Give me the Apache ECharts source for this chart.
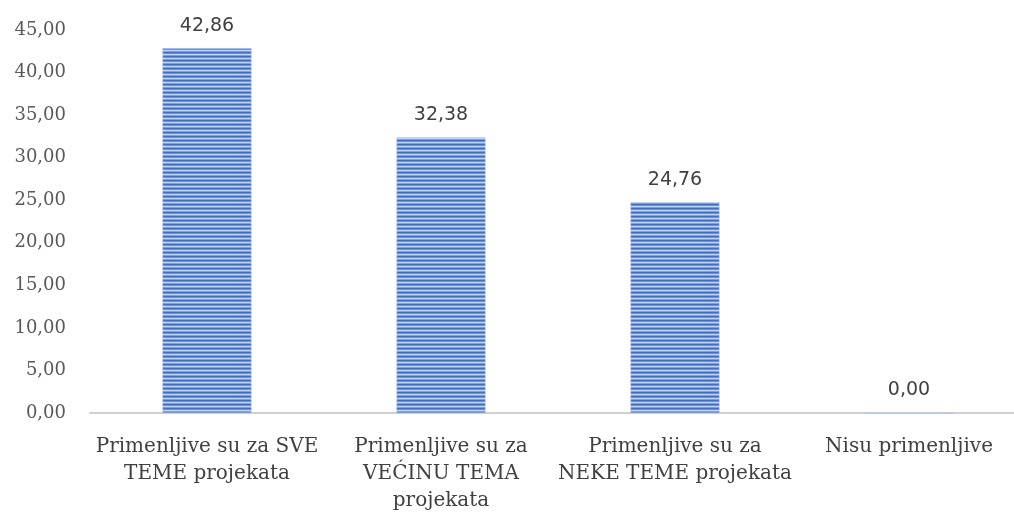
<!DOCTYPE html>
<html>
<head>
<meta charset="utf-8">
<script src="https://cdn.jsdelivr.net/npm/echarts@6/dist/echarts.min.js"></script>
<style>
  html, body { margin: 0; padding: 0; background: #fff; overflow: hidden; }
  #chart { width: 1026px; height: 512px; }
</style>
</head>
<body>
<div id="chart"></div>
<script>
// categories and values
const categories = [
  'Primenljive su za SVE\nTEME projekata',
  'Primenljive su za\nVEĆINU TEMA\nprojekata',
  'Primenljive su za\nNEKE TEME projekata',
  'Nisu primenljive'
]
const values = [42.86, 32.38, 24.76, 0.00]

const fmt = (v) => Number(v).toFixed(2).replace('.', ',')

// striped fill like the original
function makeStripes() {
  const c = document.createElement('canvas')
  c.width = 4
  c.height = 4
  const ctx = c.getContext('2d')
  const rows = ['#3f6ec4', '#6d91d6', '#c6d6f1', '#7f9fdc']
  rows.forEach((col, i) => {
    ctx.fillStyle = col
    ctx.fillRect(0, i, 4, 1)
  })
  return c
}

const chart = echarts.init(document.getElementById('chart'))
const serif = 'DejaVu Serif, serif'

chart.setOption({
  animation: false,
  grid: { left: 90, top: 30, right: 0, bottom: 99, containLabel: false, outerBoundsMode: 'none' },
  xAxis: {
    type: 'category',
    data: categories,
    axisLine: { lineStyle: { color: '#d0d0d0', width: 2 } },
    axisTick: { show: false },
    axisLabel: {
      interval: 0,
      margin: 20,
      color: '#404040',
      fontFamily: serif,
      fontSize: 20,
      lineHeight: 27
    }
  },
  yAxis: {
    type: 'value',
    min: 0,
    max: 45,
    interval: 5,
    splitLine: { show: false },
    axisLine: { show: false },
    axisTick: { show: false },
    axisLabel: {
      margin: 24,
      color: '#595959',
      fontFamily: serif,
      fontSize: 18,
      formatter: fmt
    }
  },
  series: [
    {
      type: 'bar',
      data: values,
      barWidth: 89,
      itemStyle: {
        color: { image: makeStripes(), repeat: 'repeat' },
        borderColor: '#a9bfe6',
        borderWidth: 0.5
      },
      label: {
        show: true,
        position: 'top',
        distance: 13,
        color: '#404040',
        fontFamily: 'DejaVu Sans, sans-serif',
        fontSize: 19,
        formatter: (p) => fmt(p.value)
      }
    }
  ]
})
</script>
</body>
</html>
